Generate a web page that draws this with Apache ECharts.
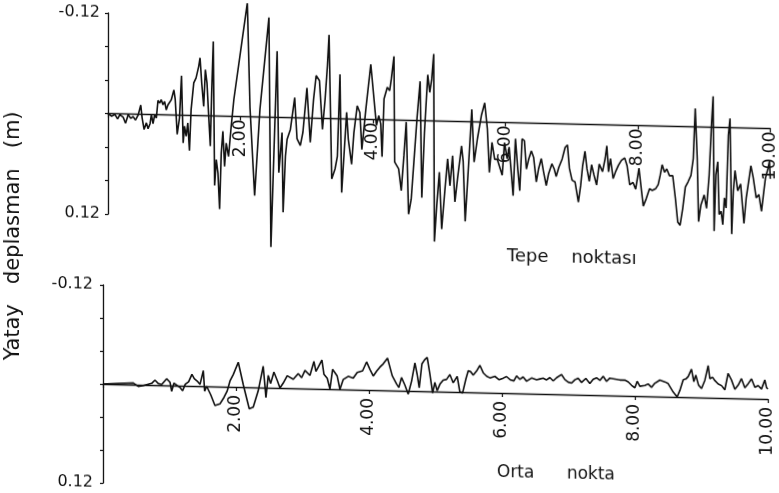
<!DOCTYPE html>
<html>
<head>
<meta charset="utf-8">
<script src="https://cdn.jsdelivr.net/npm/echarts@6/dist/echarts.min.js"></script>
<style>
  html, body { margin: 0; padding: 0; background: #fff; }
  /* plotter sheet sits slightly askew */
  #chart { width: 779px; height: 493px; transform: skewY(1.3deg); transform-origin: 105px 0; }
</style>
</head>
<body>
<div id="chart"></div>
<script>
// Horizontal displacement (m) versus time (s)
// Top: crest point (Tepe noktası)
const tTop = [
  0.000, 0.055, 0.105, 0.145, 0.180, 0.230, 0.265, 0.305, 0.345, 0.380,
  0.415, 0.455, 0.495, 0.515, 0.545, 0.580, 0.605, 0.635, 0.655, 0.680,
  0.705, 0.730, 0.755, 0.780, 0.805, 0.830, 0.855, 0.880, 0.905, 0.930,
  0.955, 0.995, 1.015, 1.045, 1.080, 1.110, 1.135, 1.155, 1.180, 1.205,
  1.230, 1.255, 1.295, 1.330, 1.370, 1.390, 1.415, 1.445, 1.470, 1.495,
  1.520, 1.545, 1.565, 1.590, 1.610, 1.635, 1.660, 1.685, 1.710, 1.735,
  1.760, 1.785, 1.820, 1.860, 1.900, 2.104, 2.144, 2.214, 2.294, 2.430,
  2.460, 2.554, 2.579, 2.628, 2.644, 2.679, 2.704, 2.754, 2.819, 2.854,
  2.904, 2.943, 3.004, 3.054, 3.103, 3.143, 3.193, 3.238, 3.278, 3.313,
  3.338, 3.378, 3.428, 3.463, 3.503, 3.528, 3.603, 3.628, 3.678, 3.713,
  3.763, 3.803, 3.833, 3.893, 3.968, 4.053, 4.088, 4.118, 4.138, 4.168,
  4.218, 4.253, 4.278, 4.318, 4.328, 4.388, 4.428, 4.468, 4.503, 4.538,
  4.578, 4.628, 4.668, 4.713, 4.738, 4.778, 4.828, 4.858, 4.888, 4.918,
  4.928, 4.963, 5.003, 5.038, 5.088, 5.128, 5.163, 5.203, 5.238, 5.278,
  5.338, 5.363, 5.393, 5.438, 5.493, 5.528, 5.578, 5.638, 5.688, 5.728,
  5.758, 5.798, 5.838, 5.877, 5.952, 5.987, 6.027, 6.057, 6.117, 6.152,
  6.187, 6.217, 6.252, 6.287, 6.317, 6.352, 6.392, 6.427, 6.467, 6.502,
  6.542, 6.577, 6.617, 6.652, 6.702, 6.737, 6.767, 6.807, 6.857, 6.902,
  6.937, 6.967, 7.007, 7.052, 7.102, 7.137, 7.167, 7.202, 7.232, 7.267,
  7.302, 7.337, 7.377, 7.417, 7.467, 7.507, 7.532, 7.557, 7.587, 7.627,
  7.667, 7.707, 7.752, 7.802, 7.837, 7.877, 7.927, 7.967, 8.017, 8.057,
  8.082, 8.127, 8.177, 8.217, 8.267, 8.307, 8.337, 8.367, 8.402, 8.437,
  8.477, 8.527, 8.567, 8.602, 8.637, 8.677, 8.717, 8.757, 8.802, 8.837,
  8.867, 8.897, 8.917, 8.952, 9.002, 9.037, 9.077, 9.112, 9.137, 9.152,
  9.177, 9.207, 9.227, 9.257, 9.282, 9.307, 9.332, 9.367, 9.392, 9.417,
  9.442, 9.467, 9.507, 9.552, 9.602, 9.637, 9.667, 9.707, 9.742, 9.787,
  9.827, 9.867, 9.902, 9.927, 9.967, 9.987, 10.000
];
const dTop = [
  0.000, 0.003, 0.001, 0.006, 0.001, 0.004, 0.011, 0.001, 0.005, 0.003,
  0.007, 0.001, -0.011, 0.004, 0.018, 0.010, 0.017, 0.011, 0.000, 0.011,
  0.000, 0.004, -0.017, -0.014, -0.018, -0.012, -0.016, -0.006, -0.012, -0.014,
  -0.018, -0.030, -0.019, 0.023, 0.003, -0.047, 0.033, 0.013, 0.025, 0.009,
  0.042, -0.007, -0.039, -0.045, -0.059, -0.069, -0.039, -0.011, -0.055, -0.039,
  0.000, 0.036, -0.027, -0.089, 0.083, 0.052, 0.068, 0.111, 0.044, 0.018,
  0.060, 0.032, 0.048, 0.012, -0.020, -0.136, -0.011, 0.094, -0.009, -0.119,
  0.155, -0.079, 0.066, 0.018, 0.113, 0.046, 0.026, 0.014, -0.024, 0.025,
  0.033, 0.017, -0.036, 0.029, -0.022, -0.051, -0.045, 0.013, -0.023, -0.063,
  -0.100, 0.072, 0.060, 0.045, -0.053, 0.088, -0.008, 0.024, 0.054, 0.016,
  -0.016, -0.008, 0.036, -0.012, -0.066, 0.007, -0.005, 0.005, 0.044, -0.025,
  -0.039, -0.035, -0.049, -0.076, 0.050, 0.058, 0.084, 0.042, 0.002, 0.112,
  0.094, 0.039, -0.005, -0.047, 0.092, 0.014, -0.055, -0.034, -0.050, -0.080,
  0.144, 0.101, 0.061, 0.129, 0.081, 0.045, 0.077, 0.041, 0.096, 0.068,
  0.029, 0.048, 0.119, 0.060, -0.015, 0.048, 0.020, -0.008, -0.023, 0.008,
  0.060, 0.024, 0.044, 0.044, 0.063, 0.024, 0.043, 0.029, 0.087, 0.019,
  0.055, 0.081, 0.019, 0.021, 0.055, 0.043, 0.033, 0.041, 0.070, 0.054,
  0.042, 0.058, 0.074, 0.060, 0.048, 0.054, 0.063, 0.052, 0.042, 0.028,
  0.025, 0.053, 0.067, 0.069, 0.093, 0.073, 0.049, 0.032, 0.053, 0.068,
  0.048, 0.060, 0.072, 0.047, 0.056, 0.040, 0.025, 0.056, 0.040, 0.064,
  0.055, 0.048, 0.042, 0.039, 0.048, 0.071, 0.068, 0.076, 0.051, 0.079,
  0.096, 0.087, 0.075, 0.077, 0.075, 0.070, 0.059, 0.046, 0.055, 0.051,
  0.059, 0.059, 0.086, 0.114, 0.118, 0.098, 0.072, 0.066, 0.058, 0.038,
  -0.022, 0.038, 0.113, 0.093, 0.081, 0.097, 0.057, -0.003, -0.037, 0.124,
  0.057, 0.041, 0.104, 0.100, 0.116, 0.084, 0.096, 0.009, -0.011, 0.127,
  0.075, 0.051, 0.075, 0.067, 0.114, 0.083, 0.067, 0.045, 0.059, 0.083,
  0.079, 0.099, 0.075, 0.059, 0.047, 0.039, 0.060
];

// Bottom: mid-height point (Orta nokta)
const tMid = [
  0.000, 0.456, 0.481, 0.531, 0.606, 0.732, 0.782, 0.832, 0.882, 0.957,
  1.008, 1.033, 1.068, 1.118, 1.158, 1.198, 1.238, 1.288, 1.338, 1.373,
  1.418, 1.459, 1.509, 1.529, 1.559, 1.620, 1.684, 1.759, 1.820, 1.869,
  1.910, 1.960, 2.035, 2.110, 2.200, 2.260, 2.335, 2.410, 2.451, 2.486,
  2.521, 2.571, 2.621, 2.662, 2.711, 2.771, 2.862, 2.937, 2.988, 3.038,
  3.113, 3.173, 3.203, 3.243, 3.293, 3.323, 3.373, 3.414, 3.454, 3.489,
  3.523, 3.564, 3.614, 3.689, 3.764, 3.824, 3.905, 3.965, 4.015, 4.065,
  4.116, 4.165, 4.215, 4.280, 4.350, 4.416, 4.450, 4.491, 4.541, 4.591,
  4.642, 4.692, 4.726, 4.757, 4.797, 4.837, 4.877, 4.917, 4.958, 4.992,
  5.027, 5.068, 5.117, 5.168, 5.218, 5.268, 5.328, 5.368, 5.409, 5.459,
  5.494, 5.529, 5.569, 5.620, 5.669, 5.719, 5.770, 5.820, 5.895, 5.959,
  6.020, 6.070, 6.131, 6.180, 6.221, 6.271, 6.320, 6.371, 6.447, 6.522,
  6.571, 6.621, 6.672, 6.722, 6.772, 6.823, 6.898, 6.947, 6.997, 7.048,
  7.098, 7.147, 7.198, 7.263, 7.323, 7.373, 7.424, 7.474, 7.524, 7.574,
  7.624, 7.699, 7.774, 7.850, 7.900, 7.950, 8.000, 8.035, 8.075, 8.150,
  8.200, 8.250, 8.300, 8.376, 8.451, 8.501, 8.576, 8.636, 8.677, 8.727,
  8.767, 8.802, 8.852, 8.887, 8.917, 8.958, 9.003, 9.053, 9.103, 9.128,
  9.168, 9.203, 9.253, 9.304, 9.353, 9.403, 9.454, 9.504, 9.554, 9.604,
  9.654, 9.704, 9.755, 9.805, 9.855, 9.905, 9.955, 9.980, 10.000
];
const dMid = [
  0.000, -0.002, -0.003, 0.002, 0.001, -0.002, -0.006, -0.002, -0.001, -0.008,
  -0.004, 0.007, -0.003, 0.000, 0.002, 0.006, -0.002, -0.005, -0.014, -0.009,
  -0.006, -0.002, -0.019, 0.006, 0.000, 0.010, 0.023, 0.021, 0.013, 0.005,
  -0.007, -0.015, -0.030, -0.003, 0.026, 0.024, 0.004, -0.026, 0.012, -0.015,
  -0.005, -0.019, -0.009, 0.000, -0.006, -0.015, -0.011, -0.018, -0.013, -0.022,
  -0.016, -0.033, -0.021, -0.027, -0.035, -0.018, -0.013, 0.000, -0.024, -0.020,
  -0.016, 0.000, -0.012, -0.016, -0.014, -0.021, -0.023, -0.034, -0.025, -0.017,
  -0.023, -0.028, -0.032, -0.039, -0.018, -0.008, -0.004, -0.016, -0.007, 0.004,
  -0.012, -0.034, -0.020, -0.004, -0.033, -0.038, -0.041, -0.021, 0.002, -0.011,
  -0.001, -0.009, -0.014, -0.015, -0.021, -0.011, -0.019, 0.000, 0.001, -0.016,
  -0.026, -0.025, -0.021, -0.026, -0.033, -0.024, -0.020, -0.018, -0.020, -0.016,
  -0.018, -0.020, -0.016, -0.015, -0.021, -0.017, -0.020, -0.015, -0.019, -0.017,
  -0.018, -0.019, -0.017, -0.020, -0.016, -0.020, -0.024, -0.018, -0.015, -0.014,
  -0.018, -0.020, -0.015, -0.020, -0.014, -0.019, -0.021, -0.018, -0.023, -0.017,
  -0.021, -0.020, -0.019, -0.019, -0.017, -0.013, -0.010, -0.018, -0.012, -0.013,
  -0.015, -0.011, -0.016, -0.020, -0.018, -0.016, -0.006, 0.000, -0.008, -0.021,
  -0.022, -0.025, -0.034, -0.019, -0.027, -0.015, -0.011, -0.021, -0.039, -0.023,
  -0.025, -0.021, -0.017, -0.015, -0.010, -0.030, -0.022, -0.011, -0.016, -0.024,
  -0.013, -0.018, -0.024, -0.014, -0.016, -0.012, -0.023, -0.014, -0.012
];

const ink = '#111';
const fontFam = "'DejaVu Sans', sans-serif";

const pairs = (ts, ds) => ts.map((t, i) => [t, ds[i]]);

// Panels: the time axis runs along the zero line, halfway down each grid
const panels = [
  { left: 108, top: 13, width: 667, height: 201, labelGap: 3, yLabelGap: 8 },
  { left: 103, top: 285, width: 665, height: 198, labelGap: 8, yLabelGap: 10 }
];

function xAxisFor(i) {
  const p = panels[i];
  return {
    type: 'value', gridIndex: i, min: 0, max: 10, interval: 2,
    position: 'bottom', offset: -p.height / 2,
    axisLine: { show: true, onZero: false, lineStyle: { color: ink, width: 1.3 } },
    axisTick: { show: true, length: 4, lineStyle: { color: ink, width: 1.2 } },
    axisLabel: {
      rotate: 90, margin: p.labelGap, color: ink, fontSize: 17, fontFamily: fontFam,
      formatter: v => (v === 0 ? '' : v.toFixed(2))
    },
    splitLine: { show: false }
  };
}

function yAxisFor(i) {
  const p = panels[i];
  return {
    type: 'value', gridIndex: i, min: -0.12, max: 0.12, interval: 0.04, inverse: true,
    axisLine: { show: true, onZero: false, lineStyle: { color: ink, width: 1.3 } },
    axisTick: { show: true, length: 3, lineStyle: { color: ink, width: 1.2 } },
    axisLabel: {
      margin: p.yLabelGap, color: ink, fontSize: 16, fontFamily: fontFam,
      formatter: v => {
        if (Math.abs(v + 0.12) < 1e-6) return '-0.12';
        if (Math.abs(v - 0.12) < 1e-6) return '0.12';
        return '';
      }
    },
    splitLine: { show: false }
  };
}

const traceStyle = { color: ink, width: 1.6 };

const chart = echarts.init(document.getElementById('chart'), null, { renderer: 'canvas' });
chart.setOption({
  animation: false,
  backgroundColor: '#fff',
  grid: panels.map(p => ({ left: p.left, top: p.top, width: p.width, height: p.height })),
  xAxis: [xAxisFor(0), xAxisFor(1)],
  yAxis: [yAxisFor(0), yAxisFor(1)],
  graphic: [
    {
      type: 'text', x: 14, y: 238, rotation: Math.PI / 2,
      style: { text: 'Yatay   deplasman   (m)', fill: ink, font: '21px ' + fontFam, align: 'center', verticalAlign: 'middle' }
    },
    {
      type: 'text', left: 507, top: 238,
      style: { text: 'Tepe    noktası', fill: ink, font: '18px ' + fontFam }
    },
    {
      type: 'text', left: 497, top: 455,
      style: { text: 'Orta      nokta', fill: ink, font: '17px ' + fontFam }
    }
  ],
  series: [
    {
      name: 'Tepe noktası', type: 'line', xAxisIndex: 0, yAxisIndex: 0,
      data: pairs(tTop, dTop), showSymbol: false, clip: false,
      lineStyle: traceStyle, itemStyle: { color: ink }
    },
    {
      name: 'Orta nokta', type: 'line', xAxisIndex: 1, yAxisIndex: 1,
      data: pairs(tMid, dMid), showSymbol: false, clip: false,
      lineStyle: traceStyle, itemStyle: { color: ink }
    }
  ]
});
</script>
</body>
</html>
